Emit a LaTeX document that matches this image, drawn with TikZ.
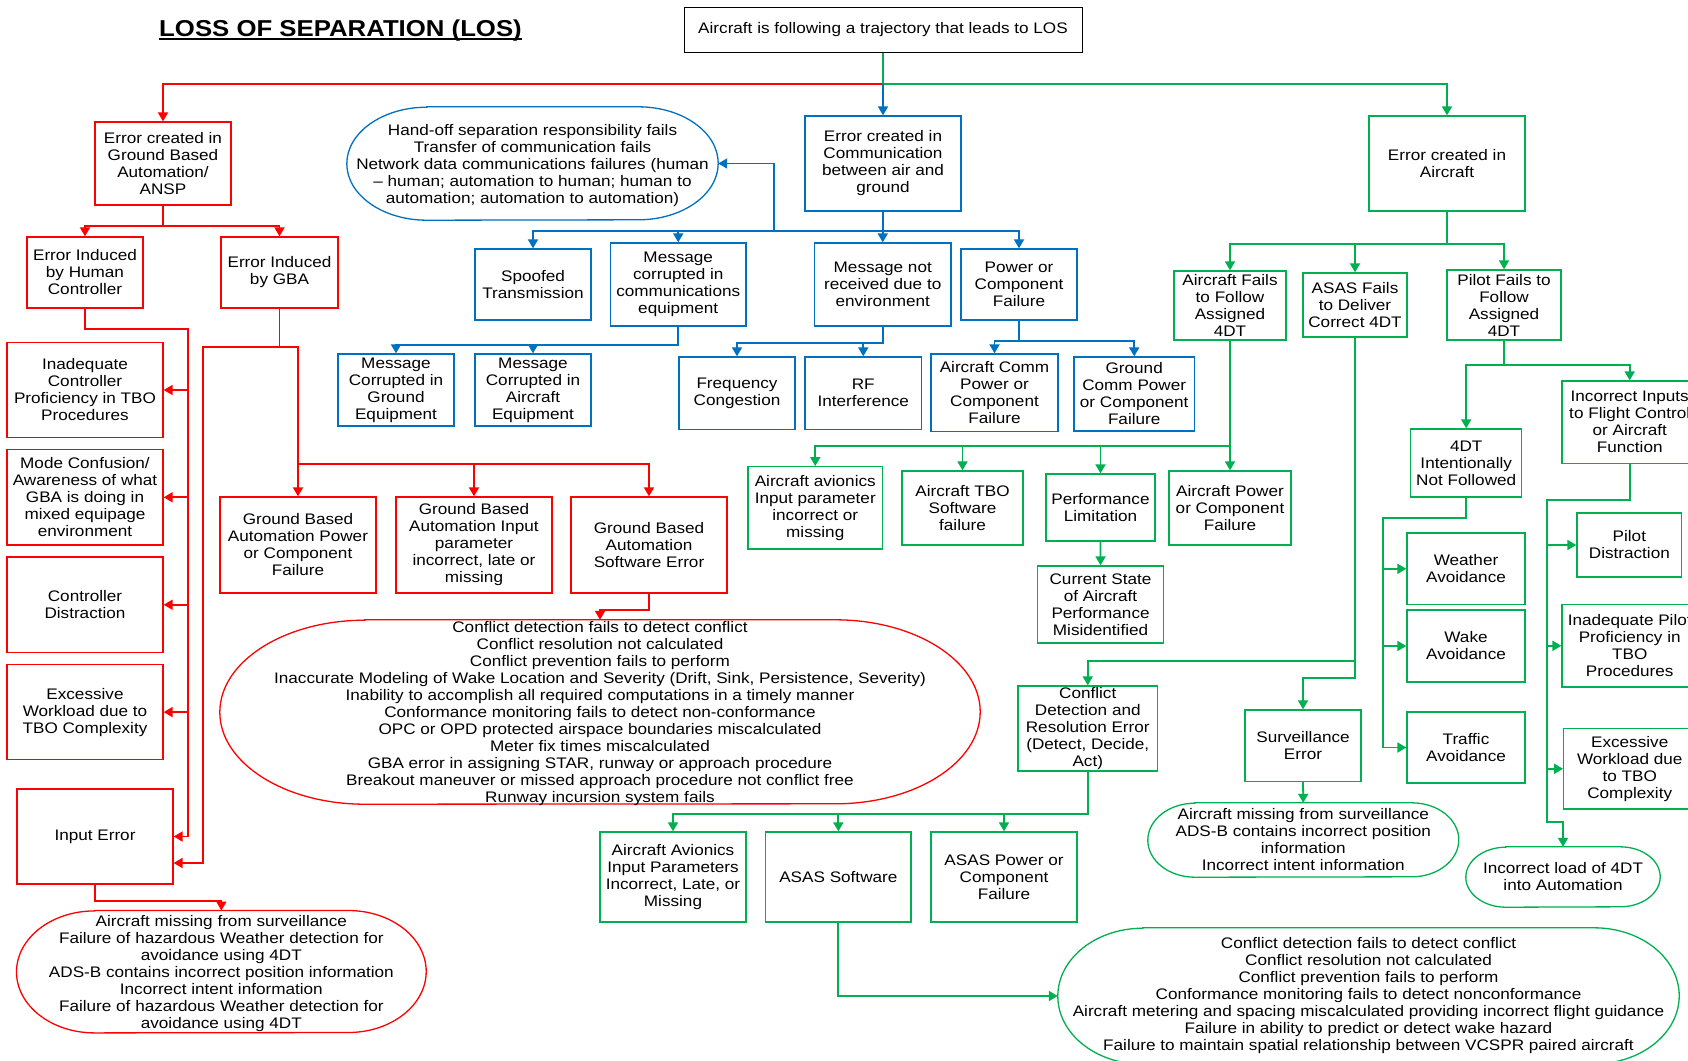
\documentclass[tikz,border=0pt]{standalone}
\usepackage{fontspec}
\setmainfont{Liberation Sans}[FakeStretch=1.12]
\usetikzlibrary{arrows.meta,calc}
\definecolor{cred}{HTML}{FF0000}
\definecolor{cblue}{HTML}{0070C0}
\definecolor{cgreen}{HTML}{00B050}

% pill outline with elliptical ends around an (empty) frame node
\newcommand{\pillframe}[4]{%
  \draw[#4, line width=1.3pt]
    ($(#1.north west)+(#2pt,0pt)$) -- ($(#1.north east)+(-#2pt,0pt)$)
    arc[start angle=90,end angle=-90,x radius=#2pt,y radius=#3pt]
    -- ($(#1.south west)+(#2pt,0pt)$)
    arc[start angle=270,end angle=90,x radius=#2pt,y radius=#3pt] -- cycle;}

\tikzset{
  span/.style args={#1/#2/#3/#4}{minimum width={#3-(#1)}, minimum height={#4-(#2)},
    at={({(#1+#3)/2},{(#2+#4)/2})}},
  txt/.style={font=\fontsize{15.3}{17}\selectfont, align=center, text=black, inner sep=0pt},
  pilltxt/.style={txt, yshift=-2pt},
  box/.style={txt, draw, rectangle, line width=1.3pt},
  rbox/.style={box, draw=cred},
  bbox/.style={box, draw=cblue},
  gbox/.style={box, draw=cgreen},
  frame/.style={inner sep=0pt, draw=none},
  rl/.style={draw=cred, line width=1.8pt},
  bl/.style={draw=cblue, line width=1.8pt},
  gl/.style={draw=cgreen, line width=1.8pt},
  ar/.style={-{Triangle[width=10pt,length=9pt]}},
}

\begin{document}
\begin{tikzpicture}[x=1pt,y=-1pt]
\useasboundingbox (0,0) rectangle (1688,1060);
\clip (0,0) rectangle (1688,1060);
\fill[white] (0,0) rectangle (1688,1060);

% title
\node[font=\fontsize{23}{27}\selectfont\bfseries, inner sep=0pt, anchor=base] (title) at (340.5,36) {LOSS OF SEPARATION (LOS)};
\draw[line width=2pt] ($(title.base west)+(0,2.5)$) -- ($(title.base east)+(0,2.5)$);

% root
\node[box, draw=black, line width=1pt, span=684/7.5/1082/52] (top) {Aircraft is following a trajectory that leads to LOS};

% ---------------- ground based automation branch ----------------
\node[rbox, span=95/122/231/205] (ansp) {Error created in\\Ground Based\\Automation/\\ANSP};
\node[rbox, span=27/237/143/308] (human) {Error Induced\\by Human\\Controller};
\node[rbox, span=221/237/338/308] (gbai) {Error Induced\\by GBA};
\node[rbox, span=7/342.5/163/437.5] (inadeq) {Inadequate\\Controller\\Proficiency in TBO\\Procedures};
\node[rbox, span=7/449.6/163/545] (mode) {Mode Confusion/\\Awareness of what\\GBA is doing in\\mixed equipage\\environment};
\node[rbox, span=7/557/163/652.5] (distr) {Controller\\Distraction};
\node[rbox, span=7/664.6/163/759.6] (workload) {Excessive\\Workload due to\\TBO Complexity};
\node[rbox, span=17/789/173/884] (input) {Input Error};
\node[rbox, span=220/497/376/593] (gbapow) {Ground Based\\Automation Power\\or Component\\Failure};
\node[rbox, span=396/497/552/593] (gbainp) {Ground Based\\Automation Input\\parameter\\incorrect, late or\\missing};
\node[rbox, span=571/497/727/593] (gbasw) {Ground Based\\Automation\\Software Error};

\node[frame, span=220/620/980/804] (redpill) {};
\pillframe{redpill}{145}{92}{cred}
\node[pilltxt] (redpilltxt) at (redpill.center) {Conflict detection fails to detect conflict\\Conflict resolution not calculated\\Conflict prevention fails to perform\\Inaccurate Modeling of Wake Location and Severity (Drift, Sink, Persistence, Severity)\\Inability to accomplish all required computations in a timely manner\\Conformance monitoring fails to detect non-conformance\\OPC or OPD protected airspace boundaries miscalculated\\Meter fix times miscalculated\\GBA error in assigning STAR, runway or approach procedure\\Breakout maneuver or missed approach procedure not conflict free\\Runway incursion system fails};

\node[frame, span=16.7/910.7/426/1032.7] (redpill2) {};
\pillframe{redpill2}{78}{61}{cred}
\node[pilltxt] (redpill2txt) at (redpill2.center) {Aircraft missing from surveillance\\Failure of hazardous Weather detection for\\avoidance using 4DT\\ADS-B contains incorrect position information\\Incorrect intent information\\Failure of hazardous Weather detection for\\avoidance using 4DT};

% ---------------- communication branch ----------------
\node[bbox, span=805/116/961/211] (comm) {Error created in\\Communication\\between air and\\ground};
\node[frame, span=347/107/718/220] (bluepill) {};
\pillframe{bluepill}{80}{56.5}{cblue}
\node[pilltxt] (bluepilltxt) at (bluepill.center) {Hand-off separation responsibility fails\\Transfer of communication fails\\Network data communications failures (human\\-- human; automation to human; human to\\automation; automation to automation)};
\node[bbox, span=475/249/591/320] (spoof) {Spoofed\\Transmission};
\node[bbox, span=610.5/243/746/326] (msgcorr) {Message\\corrupted in\\communications\\equipment};
\node[bbox, span=814.5/243/951/326] (msgnot) {Message not\\received due to\\environment};
\node[bbox, span=961/249/1077/320] (power) {Power or\\Component\\Failure};
\node[bbox, span=338/354/454/426] (mground) {Message\\Corrupted in\\Ground\\Equipment};
\node[bbox, span=475/354/591/426] (maircraft) {Message\\Corrupted in\\Aircraft\\Equipment};
\node[bbox, span=679/357/795/429.5] (freq) {Frequency\\Congestion};
\node[bbox, span=805/357/921.5/429.5] (rf) {RF\\Interference};
\node[bbox, span=931/354/1058/431.7] (acomm) {Aircraft Comm\\Power or\\Component\\Failure};
\node[bbox, span=1074/357/1194.4/431] (gcomm) {Ground\\Comm Power\\or Component\\Failure};

% ---------------- aircraft branch ----------------
\node[gbox, span=1369/116/1525/211] (aircraft) {Error created in\\Aircraft};
\node[gbox, span=1174/271/1286/340] (afails) {Aircraft Fails\\to Follow\\Assigned\\4DT};
\node[gbox, span=1303/273/1407/337] (asasfails) {ASAS Fails\\to Deliver\\Correct 4DT};
\node[gbox, span=1447/270/1561/340] (pfails) {Pilot Fails to\\Follow\\Assigned\\4DT};
\node[gbox, span=748/466.7/882.5/549] (avionics) {Aircraft avionics\\Input parameter\\incorrect or\\missing};
\node[gbox, span=902/471/1023/545] (tbo) {Aircraft TBO\\Software\\failure};
\node[gbox, span=1046/474/1155/541] (perf) {Performance\\Limitation};
\node[gbox, span=1169/471/1291/545] (apower) {Aircraft Power\\or Component\\Failure};
\node[gbox, span=1037.5/566/1163.6/643] (curstate) {Current State\\of Aircraft\\Performance\\Misidentified};
\node[gbox, span=1018/686/1157.5/771] (cdr) {Conflict\\Detection and\\Resolution Error\\(Detect, Decide,\\Act)};
\node[gbox, span=1245/710/1361/781.4] (survErr) {Surveillance\\Error};
\node[frame, span=1148/803/1458.6/877] (survpill) {};
\pillframe{survpill}{47}{37}{cgreen}
\node[txt] (survpilltxt) at (survpill.center) {Aircraft missing from surveillance\\ADS-B contains incorrect position\\information\\Incorrect intent information};
\node[gbox, span=1410.7/429/1521.7/497] (dt4) {4DT\\Intentionally\\Not Followed};
\node[gbox, span=1562/381/1697.4/463.6] (inputs) {Incorrect Inputs\\to Flight Control\\or Aircraft\\Function};
\node[gbox, span=1407/533/1525/604.6] (weather) {Weather\\Avoidance};
\node[gbox, span=1407/610/1525/682] (wake) {Wake\\Avoidance};
\node[gbox, span=1407/712/1525/783] (traffic) {Traffic\\Avoidance};
\node[gbox, span=1577/513/1681.7/577] (pdistr) {Pilot\\Distraction};
\node[gbox, span=1562/604.6/1697.4/687] (inadpilot) {Inadequate Pilot\\Proficiency in\\TBO\\Procedures};
\node[gbox, span=1563.7/728.6/1695.7/809] (pworkload) {Excessive\\Workload due\\to TBO\\Complexity};
\node[frame, span=1466/847/1660/907] (loadpill) {};
\pillframe{loadpill}{40}{30}{cgreen}
\node[txt] (loadpilltxt) at (loadpill.center) {Incorrect load of 4DT\\into Automation};
\node[gbox, span=600/832/746/922] (avinputs) {Aircraft Avionics\\Input Parameters\\Incorrect, Late, or\\Missing};
\node[gbox, span=765.7/832/911/922] (asassw) {ASAS Software};
\node[gbox, span=931/832/1077/922] (asaspow) {ASAS Power or\\Component\\Failure};
\node[frame, span=1058/928/1679/1064] (greenpill) {};
\pillframe{greenpill}{85}{68}{cgreen}
\node[txt] (greenpilltxt) at (greenpill.center) {Conflict detection fails to detect conflict\\Conflict resolution not calculated\\Conflict prevention fails to perform\\Conformance monitoring fails to detect nonconformance\\Aircraft metering and spacing miscalculated providing incorrect flight guidance\\Failure in ability to predict or detect wake hazard\\Failure to maintain spatial relationship between VCSPR paired aircraft};

% ---------------- connectors ----------------
\coordinate (tj) at (883,84);
\draw[rl,ar] (top.south) -- (tj) -| (ansp.north);
\draw[gl,ar] (top.south) -- (tj) -| (aircraft.north);
\draw[bl,ar] (tj) -- (comm.north);

% ground based automation
\draw[rl,ar] (ansp.south) -- ++(0,20) -| (human.north);
\draw[rl,ar] (ansp.south) -- ++(0,20) -| (gbai.north);
\coordinate (hv) at (188,329);
\draw[rl,ar] (human.south) |- (hv) -- (hv |- input.east) -- (input.east);
\foreach \n in {inadeq,mode,distr,workload}
  \draw[rl,ar] (hv |- \n.east) -- (\n.east);
\coordinate (gv) at (203,347);
\coordinate (gr) at (298,347);
\coordinate (gbus) at (298,463.6);
\coordinate (inp2) at ($(input.east)+(0,26.5)$);
\draw[rl,ar] (gbai.south) |- (gv) -- (gv |- inp2) -- (inp2);
\draw[rl] (gbai.south) |- (gr) -- (gbus);
\foreach \n in {gbapow,gbainp,gbasw}
  \draw[rl,ar] (gbus) -| (\n.north);
\draw[rl,ar] (gbasw.south) -- ++(0,16) -| (redpill.north);
\draw[rl,ar] (input.south) -- ++(0,16.7) -| (redpill2.north);

% communication
\foreach \n in {spoof,msgcorr,msgnot,power}
  \draw[bl,ar] (comm.south) -- ++(0,19) -| (\n.north);
\coordinate (bj) at (774,230);
\draw[bl,ar] (bj) |- (bluepill.east);
\foreach \n in {mground,maircraft}
  \draw[bl,ar] (msgcorr.south) -- ++(0,18) -| (\n.north);
\foreach \n in {freq,rf}
  \draw[bl,ar] (msgnot.south) -- ++(0,16) -| (\n.north);
\foreach \n in {acomm,gcomm}
  \draw[bl,ar] (power.south) -- ++(0,20.7) -| (\n.north);

% aircraft
\foreach \n in {afails,asasfails,pfails}
  \draw[gl,ar] (aircraft.south) -- ++(0,32) -| (\n.north);
\foreach \n in {avionics,tbo,perf,apower}
  \draw[gl,ar] (afails.south) -- ++(0,105) -| (\n.north);
\draw[gl,ar] (perf.south) -- (curstate.north);
\coordinate (aj1) at (1355,660.7);
\coordinate (aj2) at (1355,678);
\draw[gl,ar] (asasfails.south) -- (aj2) -| (survErr.north);
\draw[gl,ar] (aj1) -| (cdr.north);
\draw[gl,ar] (survErr.south) -- (survpill.north);
\foreach \n in {avinputs,asassw,asaspow}
  \draw[gl,ar] (cdr.south) -- ++(0,42.7) -| (\n.north);
\draw[gl,ar] (asassw.south) |- (greenpill.west);
\foreach \n in {dt4,inputs}
  \draw[gl,ar] (pfails.south) -- ++(0,24) -| (\n.north);
\coordinate (dv) at (1382.7,518);
\draw[gl,ar] (dt4.south) |- (dv) -- (dv |- traffic.west) -- (traffic.west);
\foreach \n in {weather,wake}
  \draw[gl,ar] (dv |- \n.west) -- (\n.west);
\coordinate (iv) at (1546.7,500);
\coordinate (iv2) at (1546.7,822);
\draw[gl,ar] (inputs.south) |- (iv) -- (iv2) -| (loadpill.north);
\foreach \n in {pdistr,inadpilot,pworkload}
  \draw[gl,ar] (iv |- \n.west) -- (\n.west);
\end{tikzpicture}
\end{document}
